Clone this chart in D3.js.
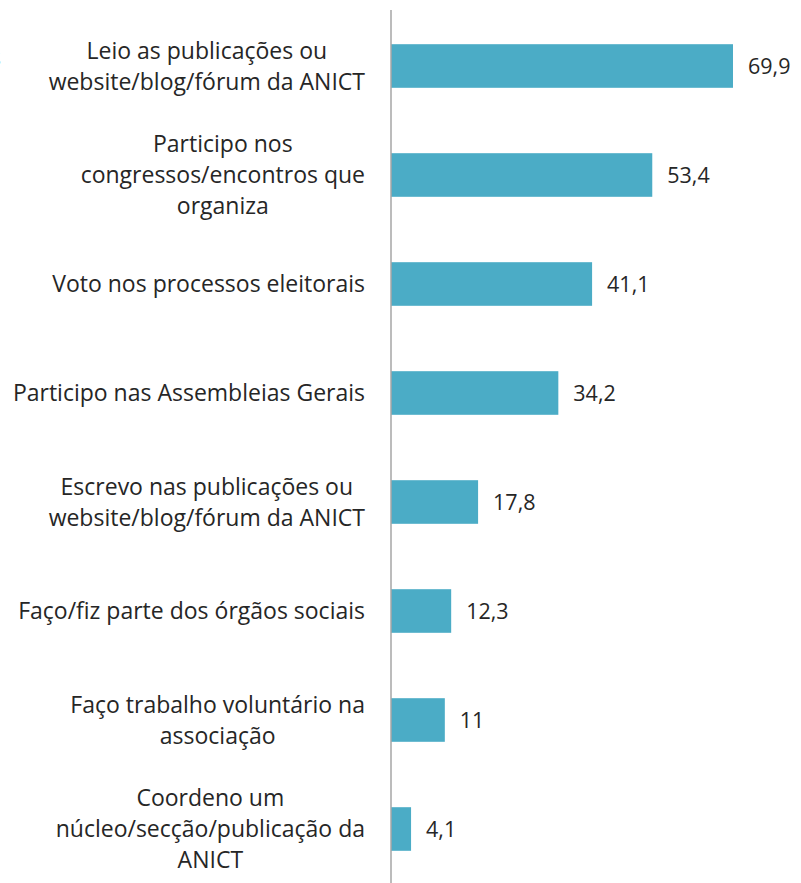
<!DOCTYPE html>
<html>
<head>
<meta charset="utf-8">
<script src="https://cdn.jsdelivr.net/npm/d3@7"></script>
<style>
  body { margin: 0; background: #fff; }
  svg { display: block; }
  text { font-family: "Open Sans", sans-serif; fill: #262626; }
</style>
</head>
<body>
<svg id="chart" width="801" height="883"></svg>
<script>
// categories, each already split into the lines the chart shows
const categories = [
  ["Leio as publicações ou", "website/blog/fórum da ANICT"],
  ["Participo nos", "congressos/encontros que", "organiza"],
  ["Voto nos processos eleitorais"],
  ["Participo nas Assembleias Gerais"],
  ["Escrevo nas publicações ou", "website/blog/fórum da ANICT"],
  ["Faço/fiz parte dos órgãos sociais"],
  ["Faço trabalho voluntário na", "associação"],
  ["Coordeno um", "núcleo/secção/publicação da", "ANICT"]
]
const values = [69.9, 53.4, 41.1, 34.2, 17.8, 12.3, 11, 4.1]

const svg = d3.select('#chart')
const width = 801, height = 883
const axisX = 391
const barColor = '#4BACC6'
const labelSize = 23
const valueSize = 21.5
const lineHeight = 31

const x = d3.scaleLinear()
    .domain([0, 69.9])
    .range([axisX, 733])

const y = d3.scaleBand()
    .domain(d3.range(values.length))
    .range([11.5, 883.5])
    .paddingInner(0.6)
    .paddingOuter(0.3)

const fmt = v => String(v).replace('.', ',')

// stray clipped glyph at the far left edge of the original crop
svg.append("text")
    .attr("x", -10)
    .attr("y", 66)
    .style("font-size", labelSize + "px")
    .text("s")

// bars
svg.append("g").selectAll("rect")
    .data(values)
    .enter().append("rect")
    .attr("x", x(0))
    .attr("y", (d, i) => y(i))
    .attr("width", d => x(d) - x(0))
    .attr("height", y.bandwidth())
    .style("fill", barColor)

// value labels
svg.append("g").selectAll("text")
    .data(values)
    .enter().append("text")
    .attr("x", d => x(d) + 15)
    .attr("y", (d, i) => y(i) + y.bandwidth() / 2)
    .attr("dy", "0.35em")
    .style("font-size", valueSize + "px")
    .text(d => fmt(d))

// category labels: block right aligned to the axis, lines centred in the block
const labels = svg.append("g")
categories.forEach((lines, i) => {
    const g = labels.append("g")
    const cy = y(i) + y.bandwidth() / 2
    const ts = lines.map((line, k) => g.append("text")
        .attr("y", cy + (k - (lines.length - 1) / 2) * lineHeight)
        .attr("dy", "0.35em")
        .attr("text-anchor", "middle")
        .style("font-size", labelSize + "px")
        .text(line))
    const maxW = d3.max(ts, t => t.node().getComputedTextLength())
    ts.forEach(t => t.attr("x", 365 - maxW / 2))
})

// vertical axis line
svg.append("line")
    .attr("x1", axisX).attr("x2", axisX)
    .attr("y1", 10).attr("y2", height)
    .style("stroke", "#a6a6a6")
    .style("stroke-width", 1.5)
</script>
</body>
</html>
